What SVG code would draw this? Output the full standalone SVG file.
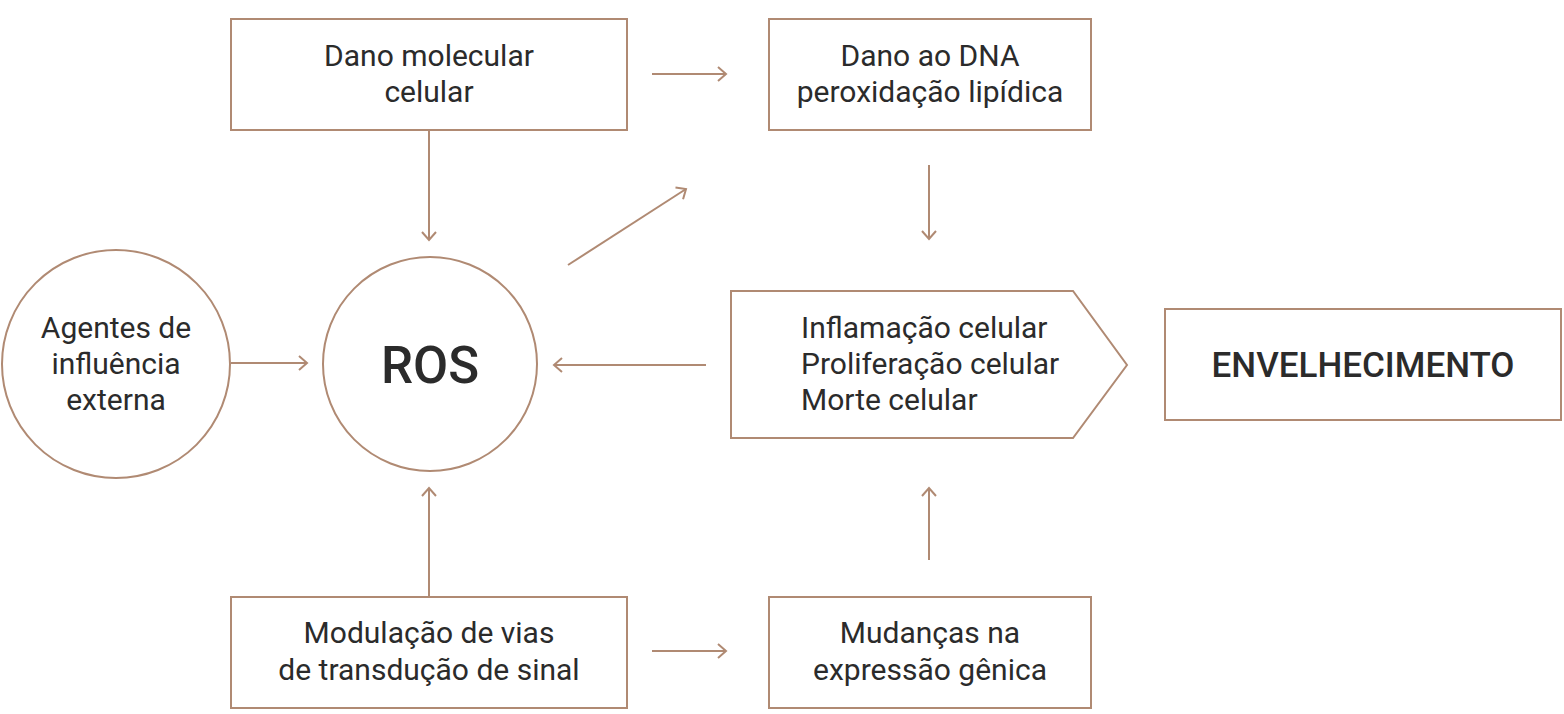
<svg xmlns="http://www.w3.org/2000/svg" width="1564" height="714" viewBox="0 0 1564 714">
<defs>
<marker id="arr" viewBox="-12 -8 14 16" refX="0" refY="0" markerWidth="14" markerHeight="16" markerUnits="userSpaceOnUse" orient="auto">
<path d="M-8,-7 L0,0 L-8,7" fill="none" stroke="#b08a73" stroke-width="2"/>
</marker>
</defs>
<style>
.n{fill:#fff;stroke:#b08a73;stroke-width:2}
.t{font-family:Roboto,"Liberation Sans",sans-serif;font-size:30px;fill:#2b2b2b;text-anchor:middle}
.l{text-anchor:start}
.b{font-size:51px;font-weight:500}
.e{font-size:35px;font-weight:500}
.c{fill:none;stroke:#b08a73;stroke-width:2;marker-end:url(#arr)}
</style>
<rect width="1564" height="714" fill="#fff"/>
<g id="connectors">
<line class="c" x1="429" y1="130" x2="429" y2="240"/>
<line class="c" x1="652" y1="74" x2="726" y2="74"/>
<line class="c" x1="568" y1="265" x2="686" y2="189"/>
<line class="c" x1="929" y1="165" x2="929" y2="239"/>
<line class="c" x1="706" y1="365" x2="554" y2="365"/>
<line class="c" x1="231" y1="363" x2="307" y2="363"/>
<line class="c" x1="429" y1="597" x2="429" y2="488"/>
<line class="c" x1="929" y1="560" x2="929" y2="488"/>
<line class="c" x1="652" y1="651" x2="726" y2="651"/>
</g>
<g id="dano-molecular">
<rect class="n" x="231" y="19" width="396" height="111"/>
<text class="t" x="429" y="66">Dano molecular</text>
<text class="t" x="429" y="102">celular</text>
</g>
<g id="dano-dna">
<rect class="n" x="769" y="19" width="322" height="111"/>
<text class="t" x="930" y="66">Dano ao DNA</text>
<text class="t" x="930" y="102">peroxidação lipídica</text>
</g>
<g id="agentes">
<circle class="n" cx="116" cy="364" r="114"/>
<text class="t" x="116" y="338">Agentes de</text>
<text class="t" x="116" y="374">influência</text>
<text class="t" x="116" y="410">externa</text>
</g>
<g id="ros">
<circle class="n" cx="430" cy="364" r="107"/>
<text class="t b" x="430" y="383">ROS</text>
</g>
<g id="efeitos">
<polygon class="n" points="731,291 1073,291 1127,365 1073,438 731,438"/>
<text class="t l" x="801" y="338">Inflamação celular</text>
<text class="t l" x="801" y="374">Proliferação celular</text>
<text class="t l" x="801" y="410">Morte celular</text>
</g>
<g id="envelhecimento">
<rect class="n" x="1165" y="309" width="396" height="111"/>
<text class="t e" x="1363" y="377">ENVELHECIMENTO</text>
</g>
<g id="modulacao">
<rect class="n" x="231" y="597" width="396" height="111"/>
<text class="t" x="429" y="643">Modulação de vias</text>
<text class="t" x="429" y="680">de transdução de sinal</text>
</g>
<g id="mudancas">
<rect class="n" x="769" y="597" width="322" height="111"/>
<text class="t" x="930" y="643">Mudanças na</text>
<text class="t" x="930" y="680">expressão gênica</text>
</g>
</svg>
